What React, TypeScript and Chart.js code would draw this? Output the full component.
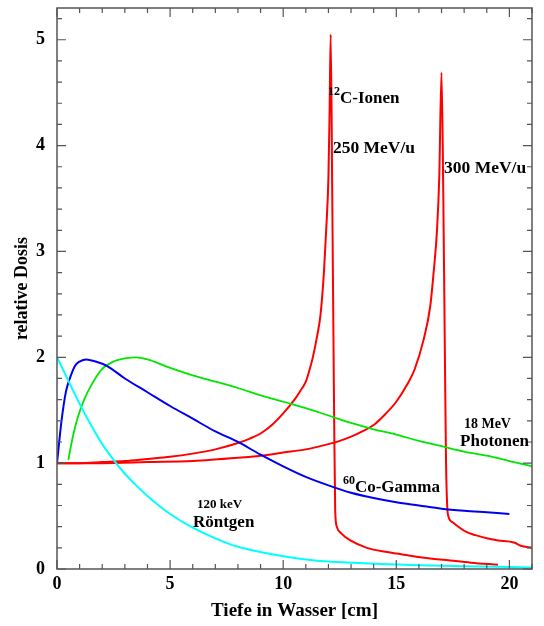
import { useEffect, useRef } from 'react';
import { Chart, registerables } from 'chart.js';

Chart.register(...registerables);

// ---- data (relative dose vs depth in water, cm) ----
const roentgenX = [0, 0.5, 1, 1.5, 2, 2.5, 3, 3.5, 4, 4.5, 5, 6, 7, 8, 9, 10, 11, 12, 14, 16, 18, 21];
const roentgenY = [2.0, 1.78, 1.56, 1.36, 1.18, 1.03, 0.9, 0.79, 0.69, 0.6, 0.52, 0.39, 0.29, 0.21, 0.16, 0.12, 0.09, 0.07, 0.05, 0.035, 0.025, 0.015];

const cobaltX = [0, 0.2, 0.4, 0.6, 0.8, 1.0, 1.3, 1.7, 2.2, 3, 4, 5, 6, 7, 8, 9, 10, 11, 12, 13, 14, 15, 16, 17, 18, 19, 20];
const cobaltY = [1.0, 1.4, 1.68, 1.82, 1.92, 1.96, 1.98, 1.96, 1.92, 1.8, 1.67, 1.54, 1.42, 1.3, 1.2, 1.08, 0.97, 0.87, 0.79, 0.72, 0.67, 0.63, 0.6, 0.57, 0.55, 0.535, 0.52];

const photonX = [0.5, 0.7, 0.9, 1.2, 1.5, 2, 2.5, 3, 3.5, 4, 5, 6, 7, 8, 9, 10, 11, 12, 13, 14, 15, 16, 17, 18, 19, 20, 21];
const photonY = [1.03, 1.25, 1.42, 1.6, 1.73, 1.89, 1.96, 1.99, 2.0, 1.98, 1.9, 1.83, 1.77, 1.71, 1.64, 1.58, 1.52, 1.45, 1.38, 1.32, 1.27, 1.21, 1.16, 1.11, 1.07, 1.02, 0.97];

const carbon250X = [0, 1, 2, 3, 4, 5, 6, 7, 8, 8.5, 9, 9.5, 10, 10.5, 10.75, 11, 11.15, 11.3, 11.5, 11.65, 11.8, 11.9, 12.0, 12.05, 12.1, 12.17, 12.25, 12.3, 12.37, 12.6, 12.97, 13.7, 14.6, 15.5, 16.5, 17.2, 18.3, 19.5];
const carbon250Y = [1.0, 1.0, 1.01, 1.02, 1.04, 1.06, 1.09, 1.13, 1.19, 1.23, 1.28, 1.36, 1.47, 1.6, 1.68, 1.77, 1.87, 1.99, 2.2, 2.4, 2.8, 3.2, 3.7, 4.3, 5.05, 3.5, 1.5, 0.55, 0.4, 0.33, 0.27, 0.2, 0.16, 0.13, 0.1, 0.085, 0.06, 0.04];

const carbon300X = [0, 2, 4, 6, 8, 9, 10, 11, 12, 12.5, 13, 13.5, 14, 14.5, 15, 15.5, 15.8, 16.2, 16.5, 16.65, 16.8, 16.9, 17.0, 17.08, 17.15, 17.2, 17.25, 17.3, 17.5, 18.1, 18.5, 19, 19.5, 20.2, 20.5, 21];
const carbon300Y = [1.0, 1.0, 1.01, 1.02, 1.05, 1.07, 1.1, 1.13, 1.18, 1.21, 1.25, 1.3, 1.36, 1.46, 1.58, 1.75, 1.88, 2.16, 2.48, 2.8, 3.2, 3.7, 4.69, 3.5, 2.0, 1.0, 0.6, 0.5, 0.44, 0.35, 0.32, 0.29, 0.27, 0.25, 0.22, 0.2];

const xTickValues = [0, 5, 10, 15, 20];
const yTickValues = [0, 1, 2, 3, 4, 5];
const X_MIN = 0, X_MAX = 21, X_MINOR = 1;
const Y_MIN = 0, Y_MAX = 5.3, Y_MINOR = 0.2;

const FONT = "'Liberation Serif', 'Times New Roman', serif";

// annotation texts (data coordinates of text baseline start)
const annotations = [
  { x: 11.98, y: 4.405, sup: '12', text: 'C-Ionen', size: 17 },
  { x: 12.2, y: 3.93, sup: '', text: '250 MeV/u', size: 17.5 },
  { x: 17.11, y: 3.74, sup: '', text: '300 MeV/u', size: 17.5 },
  { x: 17.99, y: 1.333, sup: '', text: '18 MeV', size: 14 },
  { x: 17.82, y: 1.163, sup: '', text: 'Photonen', size: 17 },
  { x: 12.64, y: 0.728, sup: '60', text: 'Co-Gamma', size: 17 },
  { x: 6.19, y: 0.577, sup: '', text: '120 keV', size: 13 },
  { x: 6.01, y: 0.397, sup: '', text: 'Röntgen', size: 17 },
];

const toPoints = (xs: number[], ys: number[]) => xs.map((x, i) => ({ x, y: ys[i] }));

const framePlugin = {
  id: 'frameTicks',
  afterDatasetsDraw(chart: any) {
    const { ctx, chartArea: a, scales } = chart;
    ctx.save();
    ctx.strokeStyle = '#555';
    ctx.lineWidth = 1.5;
    ctx.strokeRect(a.left, a.top, a.right - a.left, a.bottom - a.top);
    ctx.lineWidth = 1.2;
    ctx.beginPath();
    for (let i = 0; X_MIN + i * X_MINOR <= X_MAX + 1e-9; i++) {
      const v = X_MIN + i * X_MINOR;
      const px = scales.x.getPixelForValue(v);
      const len = Math.abs(v % 5) < 1e-6 ? 9 : 5;
      ctx.moveTo(px, a.bottom); ctx.lineTo(px, a.bottom - len);
      ctx.moveTo(px, a.top); ctx.lineTo(px, a.top + len);
    }
    for (let i = 0; Y_MIN + i * Y_MINOR <= Y_MAX + 1e-9; i++) {
      const v = Y_MIN + i * Y_MINOR;
      const py = scales.y.getPixelForValue(v);
      const r = Math.round(v);
      const len = Math.abs(v - r) < 1e-6 ? 9 : 5;
      ctx.moveTo(a.left, py); ctx.lineTo(a.left + len, py);
      ctx.moveTo(a.right, py); ctx.lineTo(a.right - len, py);
    }
    ctx.stroke();

    // annotations
    ctx.fillStyle = '#000';
    ctx.textBaseline = 'alphabetic';
    ctx.textAlign = 'left';
    for (const an of annotations) {
      let px = scales.x.getPixelForValue(an.x);
      const py = scales.y.getPixelForValue(an.y);
      if (an.sup) {
        ctx.font = `bold ${Math.round(an.size * 0.7)}px ${FONT}`;
        ctx.fillText(an.sup, px, py - an.size * 0.45);
        px += ctx.measureText(an.sup).width;
      }
      ctx.font = `bold ${an.size}px ${FONT}`;
      ctx.fillText(an.text, px, py);
    }
    ctx.restore();
  },
};

export default function App() {
  const ref = useRef<HTMLCanvasElement>(null);
  useEffect(() => {
    if (!ref.current) return;
    const lineDs = (label: string, xs: number[], ys: number[], color: string, w: number) => ({
      label,
      data: toPoints(xs, ys),
      borderColor: color,
      backgroundColor: color,
      borderWidth: w,
      pointRadius: 0,
      fill: false,
      cubicInterpolationMode: 'monotone' as const,
    });
    const chart = new Chart(ref.current, {
      type: 'line',
      data: {
        datasets: [
          lineDs('120 keV Röntgen', roentgenX, roentgenY, '#00ffff', 2),
          lineDs('60Co-Gamma', cobaltX, cobaltY, '#0000ee', 2),
          lineDs('18 MeV Photonen', photonX, photonY, '#00e600', 1.8),
          lineDs('12C 250 MeV/u', carbon250X, carbon250Y, '#ff0000', 2),
          lineDs('12C 300 MeV/u', carbon300X, carbon300Y, '#ff0000', 2),
        ],
      },
      options: {
        responsive: false,
        animation: false,
        devicePixelRatio: 1,
        layout: { padding: { top: 8, right: 12, left: 0, bottom: 0 } },
        plugins: { legend: { display: false }, tooltip: { enabled: false } },
        scales: {
          x: {
            type: 'linear',
            min: X_MIN,
            max: X_MAX,
            afterFit: (s: any) => { s.height = 57; s.paddingLeft = 0; s.paddingRight = 0; },
            afterBuildTicks: (s: any) => { s.ticks = xTickValues.map((v) => ({ value: v })); },
            grid: { display: false, drawTicks: false },
            border: { display: false },
            ticks: {
              color: '#000',
              padding: 5,
              maxRotation: 0,
              font: { family: FONT, size: 18, weight: 'bold' },
            },
            title: {
              display: true,
              text: 'Tiefe in Wasser [cm]',
              color: '#000',
              font: { family: FONT, size: 19, weight: 'bold' },
              padding: { top: 0, bottom: 4 },
            },
          },
          y: {
            type: 'linear',
            min: Y_MIN,
            max: Y_MAX,
            afterFit: (s: any) => { s.width = 57; s.paddingTop = 0; s.paddingBottom = 0; },
            afterBuildTicks: (s: any) => { s.ticks = yTickValues.map((v) => ({ value: v })); },
            grid: { display: false, drawTicks: false },
            border: { display: false },
            ticks: {
              color: '#000',
              padding: 12,
              font: { family: FONT, size: 18, weight: 'bold' },
            },
            title: {
              display: true,
              text: 'relative Dosis',
              color: '#000',
              font: { family: FONT, size: 18, weight: 'bold' },
              padding: { top: 12, bottom: 0 },
            },
          },
        },
      },
      plugins: [framePlugin],
    });
    return () => chart.destroy();
  }, []);
  return (
    <div style={{ position: 'absolute', left: 0, top: 0, width: 544, height: 626, background: '#fff' }}>
      <canvas ref={ref} width={544} height={626} style={{ width: 544, height: 626, display: 'block' }} />
    </div>
  );
}
